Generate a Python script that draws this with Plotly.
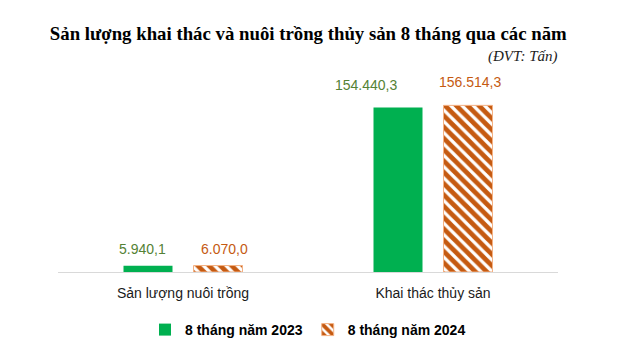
import plotly.graph_objects as go

categories = ["Sản lượng nuôi trồng", "Khai thác thủy sản"]
series_names = ["8 tháng năm 2023", "8 tháng năm 2024"]
values_2023 = [5940.1, 154440.3]
values_2024 = [6070.0, 156514.3]

def fmt(v):
    s = f"{v:,.1f}"
    return s.replace(",", "X").replace(".", ",").replace("X", ".")

GREEN = "#00B050"
ORANGE = "#C55A11"
GREEN_TXT = "#548235"

W, H = 624, 357
ML, MR, MT, MB = 58, 66, 58, 85
BARGAP, GROUPGAP = 0.44, 0.3

fig = go.Figure()
fig.add_trace(go.Bar(
    x=categories, y=values_2023, name=series_names[0],
    marker=dict(color=GREEN, line=dict(width=0)),
))
fig.add_trace(go.Bar(
    x=categories, y=values_2024, name=series_names[1],
    marker=dict(color="white", line=dict(color="#F4B183", width=1),
                pattern=dict(shape="\\", fgcolor=ORANGE, fgopacity=1, bgcolor="white",
                             size=8, solidity=0.6)),
))

plot_w = W - ML - MR
cat_px = plot_w / len(categories)
slot = cat_px * (1 - BARGAP) / 2
label_dx = {0: [-6, -32], 1: [6, 2]}   # style tweaks of label placement
label_dy = [7, 13]

annotations = []
for si, (vals, col) in enumerate([(values_2023, GREEN_TXT), (values_2024, ORANGE)]):
    base = (-slot / 2) if si == 0 else (slot / 2)
    for ci, v in enumerate(vals):
        annotations.append(dict(
            x=categories[ci], y=v, xref="x", yref="y", text=fmt(v),
            showarrow=False, yanchor="bottom", yshift=label_dy[ci],
            xshift=base + label_dx[si][ci],
            font=dict(family="Liberation Sans, Arial", size=14, color=col),
        ))
annotations.append(dict(
    x=1.004, y=1.005, xref="paper", yref="paper", text="<i>(ĐVT: Tấn)</i>",
    showarrow=False, xanchor="right", yanchor="middle",
    font=dict(family="Liberation Serif, Times New Roman", size=15, color="#222222"),
))

fig.update_layout(
    width=W, height=H,
    margin=dict(l=ML, r=MR, t=MT, b=MB, autoexpand=False),
    paper_bgcolor="white", plot_bgcolor="white",
    barmode="group", bargap=BARGAP, bargroupgap=GROUPGAP,
    title=dict(text="<b>Sản lượng khai thác và nuôi trồng thủy sản 8 tháng qua các năm</b>",
               x=0.494, xref="container", xanchor="center",
               y=1 - 33 / H, yref="container", yanchor="middle",
               font=dict(family="Liberation Serif, Times New Roman", size=18.8, color="black")),
    xaxis=dict(showline=True, linecolor="#D9D9D9", linewidth=1, automargin=False,
               tickangle=0,
               ticks="outside", ticklen=8, tickcolor="rgba(0,0,0,0)",
               tickfont=dict(family="Liberation Sans, Arial", size=14, color="#1a1a1a")),
    yaxis=dict(range=[0, 201000], visible=False, showgrid=False, zeroline=False,
               automargin=False),
    legend=dict(orientation="h", x=0.5, xanchor="center", xref="paper",
                y=-0.271, yanchor="middle", itemwidth=30,
                font=dict(family="Liberation Sans, Arial", size=14, color="black",
                          weight="bold"),
                traceorder="normal"),
    annotations=annotations,
    showlegend=True,
)

fig.write_html("out.html", config={"displayModeBar": False},
               post_script="document.body.style.margin='0';")
